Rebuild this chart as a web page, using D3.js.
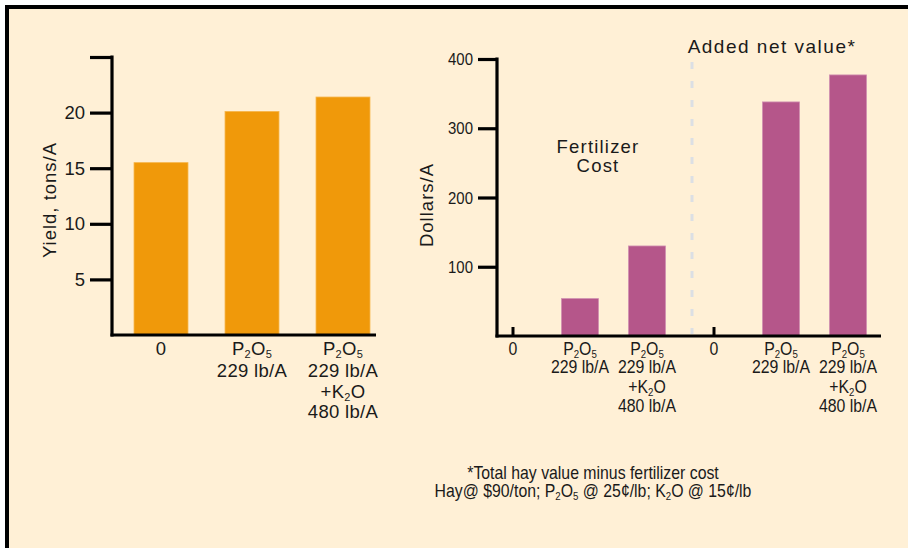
<!DOCTYPE html>
<html>
<head>
<meta charset="utf-8">
<script src="https://cdn.jsdelivr.net/npm/d3@7"></script>
<style>
  html, body { margin: 0; padding: 0; background: #ffffff; }
  svg { display: block; }
  text { font-family: "Liberation Sans", Arial, sans-serif; fill: #1a1a1a; }
</style>
</head>
<body>
<svg id="chart" width="908" height="548"></svg>
<script>
// ---------------- DATA ----------------
const yieldCategories = ["0", "P2O5 229", "P2O5 229 + K2O 480"];
const yieldValues = [15.5, 20.1, 21.4];
const yieldTicks = [5, 10, 15, 20, 25];
const yieldTickLabels = ["5", "10", "15", "20", ""];
const yieldLabels = [["0"], ["P_2O_5", "229 lb/A"], ["P_2O_5", "229 lb/A", "+K_2O", "480 lb/A"]];

const dollarCategories = ["cost 0", "cost P", "cost PK", "net 0", "net P", "net PK"];
const fertilizerCost = [0, 54, 130];
const addedNetValue = [0, 338, 377];
const dollarTicks = [100, 200, 300, 400];
const dollarTickLabels = ["100", "200", "300", "400"];
const dollarLabels = [["0"], ["P_2O_5", "229 lb/A"], ["P_2O_5", "229 lb/A", "+K_2O", "480 lb/A"],
                      ["0"], ["P_2O_5", "229 lb/A"], ["P_2O_5", "229 lb/A", "+K_2O", "480 lb/A"]];
const dollarValues = fertilizerCost.concat(addedNetValue);

const footnoteLines = ["*Total hay value minus fertilizer cost", "Hay@ $90/ton; P_2O_5 @ 25¢/lb; K_2O @ 15¢/lb"];

// ---------------- STYLE ----------------
const bg = "#FFF0D6";
const orange = "#F0990A";
const magenta = "#B5568A";

const svg = d3.select("#chart");
svg.append("rect").attr("x", 7).attr("y", 7).attr("width", 901).attr("height", 541).attr("fill", bg);
svg.append("path").attr("d", "M7,548V7H908").attr("fill", "none").attr("stroke", "#000").attr("stroke-width", 4);

// subscript-aware text writer: "_d" means subscript digit
function writeRich(textSel, str, subSize, subShift) {
  const parts = str.split(/(_\d)/).filter(s => s.length);
  let lowered = false;
  parts.forEach(p => {
    if (p[0] === "_") {
      textSel.append("tspan").attr("font-size", subSize).attr("dy", lowered ? 0 : subShift).text(p.slice(1));
      lowered = true;
    } else {
      textSel.append("tspan").attr("dy", lowered ? -subShift : 0).text(p);
      lowered = false;
    }
  });
}
// condensed text: horizontally squeezed around its anchor point
function condensed(parent, x, y, str, size, sx, anchor) {
  const g = parent.append("g").attr("transform", `translate(${x},${y}) scale(${sx},1)`);
  const t = g.append("text").attr("x", 0).attr("y", 0).attr("text-anchor", anchor || "middle").attr("font-size", size);
  writeRich(t, str, Math.round(size * 0.6), 2.5);
  return t;
}

// ---------------- LEFT CHART: YIELD ----------------
const yL = d3.scaleLinear().domain([0, 25]).range([335, 57]);
const xL = d3.scaleBand().domain(yieldCategories).range([115.5, 388.5]).paddingInner(0.407).paddingOuter(0.2035);

const gL = svg.append("g");
gL.selectAll("rect.bar").data(yieldValues).join("rect")
  .attr("x", (d, i) => xL(yieldCategories[i]))
  .attr("width", xL.bandwidth())
  .attr("y", d => yL(d))
  .attr("height", d => yL(0) - yL(d))
  .attr("fill", orange)
  .attr("stroke", "#F6B54A").attr("stroke-width", 0.8);

// y axis
const axL = gL.append("g").attr("transform", "translate(112,0)")
  .call(d3.axisLeft(yL).tickValues(yieldTicks).tickSize(22).tickFormat((d, i) => yieldTickLabels[i]));
axL.select(".domain").remove();
axL.selectAll(".tick line").attr("stroke", "#000").attr("stroke-width", 3.2);
axL.selectAll(".tick text").attr("x", -27).attr("font-size", 18.5).attr("font-family", "Liberation Sans, Arial, sans-serif").attr("fill", "#1a1a1a");
gL.append("line").attr("x1", 112).attr("x2", 112).attr("y1", yL(25) - 1.6).attr("y2", yL(0) + 1.5).attr("stroke", "#000").attr("stroke-width", 3.2);
gL.append("line").attr("x1", 110.5).attr("x2", 376).attr("y1", yL(0)).attr("y2", yL(0)).attr("stroke", "#000").attr("stroke-width", 3.2);

// x labels
const lineYsL = [355, 377, 398, 418];
yieldLabels.forEach((lines, i) => {
  const cx = xL(yieldCategories[i]) + xL.bandwidth() / 2;
  lines.forEach((ln, j) => {
    const t = gL.append("text").attr("x", cx).attr("y", lineYsL[j]).attr("text-anchor", "middle")
      .attr("font-size", 18.5).attr("letter-spacing", 0.3);
    writeRich(t, ln, 11, 3);
  });
});

gL.append("text").attr("transform", "translate(56,200) rotate(-90)").attr("text-anchor", "middle")
  .attr("font-size", 18.5).attr("letter-spacing", 1).text("Yield, tons/A");

// ---------------- RIGHT CHART: DOLLARS ----------------
const yR = d3.scaleLinear().domain([0, 400]).range([336, 59]);
const xR = d3.scaleBand().domain(dollarCategories).range([479.5, 881.5]).paddingInner(0.448).paddingOuter(0.224);

const gR = svg.append("g");
gR.selectAll("rect.bar").data(dollarValues).join("rect")
  .attr("x", (d, i) => xR(dollarCategories[i]))
  .attr("width", xR.bandwidth())
  .attr("y", d => yR(d))
  .attr("height", d => yR(0) - yR(d))
  .attr("fill", magenta)
  .attr("stroke", "#D08FB0").attr("stroke-width", d => d > 0 ? 0.8 : 0);

// zero tick marks for the zero-value categories
dollarValues.forEach((d, i) => {
  if (d === 0) {
    const cx = xR(dollarCategories[i]) + xR.bandwidth() / 2;
    gR.append("line").attr("x1", cx).attr("x2", cx).attr("y1", yR(0) - 9).attr("y2", yR(0))
      .attr("stroke", "#000").attr("stroke-width", 3);
  }
});

// dashed separator
const sepX = xR(dollarCategories[3]) + xR.bandwidth() / 2 - 22;
gR.append("line").attr("x1", sepX).attr("x2", sepX).attr("y1", 62).attr("y2", yR(0) - 2)
  .attr("stroke", "#DCDFE4").attr("stroke-width", 3).attr("stroke-dasharray", "7,12");

// y axis
const axR = gR.append("g").attr("transform", "translate(497,0)")
  .call(d3.axisLeft(yR).tickValues(dollarTicks).tickSize(19).tickFormat(""));
axR.select(".domain").remove();
axR.selectAll(".tick line").attr("stroke", "#000").attr("stroke-width", 3.2);
dollarTicks.forEach((v, i) => {
  condensed(gR, 473, yR(v) + 6, dollarTickLabels[i], 17, 0.88, "end");
});
gR.append("line").attr("x1", 497).attr("x2", 497).attr("y1", yR(400) - 1.6).attr("y2", yR(0) + 1.5).attr("stroke", "#000").attr("stroke-width", 3.2);
gR.append("line").attr("x1", 495.5).attr("x2", 881).attr("y1", yR(0)).attr("y2", yR(0)).attr("stroke", "#000").attr("stroke-width", 3.2);

// x labels
const lineYsR = [355, 373, 393, 412];
dollarLabels.forEach((lines, i) => {
  const cx = xR(dollarCategories[i]) + xR.bandwidth() / 2;
  lines.forEach((ln, j) => {
    condensed(gR, cx, lineYsR[j], ln, 18, 0.88);
  });
});

gR.append("text").attr("transform", "translate(433,205) rotate(-90)").attr("text-anchor", "middle")
  .attr("font-size", 18.5).attr("letter-spacing", 1).text("Dollars/A");

gR.append("text").attr("x", 598).attr("y", 153).attr("text-anchor", "middle").attr("font-size", 18.5).attr("letter-spacing", 1.2).text("Fertilizer");
gR.append("text").attr("x", 598).attr("y", 172).attr("text-anchor", "middle").attr("font-size", 18.5).attr("letter-spacing", 1.2).text("Cost");

gR.append("text").attr("x", 772).attr("y", 53).attr("text-anchor", "middle").attr("font-size", 19).attr("letter-spacing", 1.5).text("Added net value*");

// footnote
footnoteLines.forEach((ln, j) => {
  condensed(svg, 593, 479 + j * 18, ln, 18, 0.88);
});
</script>
</body>
</html>
